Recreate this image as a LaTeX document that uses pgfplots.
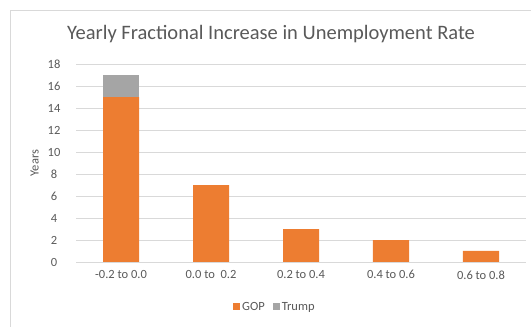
\documentclass[border=0pt]{standalone}
\usepackage{fontspec}
\setmainfont{Carlito}
\usepackage{pgfplots}
\pgfplotsset{compat=1.18}
\definecolor{gop}{HTML}{ED7D31}
\definecolor{trump}{HTML}{A5A5A5}
\definecolor{gridc}{HTML}{D9D9D9}
\definecolor{txt}{HTML}{595959}
\definecolor{frame}{HTML}{D9D9D9}
\begin{document}
\begin{tikzpicture}[x=1pt,y=1pt]
\path[use as bounding box] (0,0) rectangle (531,327);
\draw[frame,line width=0.8pt] (10,0) -- (10,317) -- (531,317);
\node[anchor=base,font=\fontsize{20.5}{22}\selectfont,text=txt] at (271,287) {Yearly Fractional Increase in Unemployment Rate};
\begin{axis}[
  at={(76pt,65pt)}, anchor=south west,
  scale only axis, width=450pt, height=198pt,
  ybar stacked, bar width=36pt,
  xmin=-0.5, xmax=4.5, ymin=0, ymax=18,
  ytick={0,2,...,18},
  xtick={0,1,2,3,4},
  xticklabels={-0.2 to 0.0, 0.0 to\ \ 0.2, 0.2 to 0.4, 0.4 to 0.6, 0.6 to 0.8},
  ymajorgrids, grid style={gridc, line width=0.8pt},
  axis y line*=left, y axis line style={draw=none},
  axis x line*=bottom, x axis line style={gridc, line width=0.8pt, -},
  major tick length=0pt,
  tick label style={font=\fontsize{12.5}{14}\selectfont, text=txt},
  /pgf/number format/assume math mode=true,
  xticklabel style={yshift=-5pt},
  yticklabel style={xshift=-22pt, anchor=center},
  ylabel={Years}, ylabel style={font=\fontsize{12.5}{14}\selectfont, text=txt, at={(axis description cs:-0.075,0.5)}, anchor=south},
  legend style={at={(0.442,-0.227)}, anchor=center, draw=none, legend columns=-1, font=\fontsize{12.5}{14}\selectfont, text=txt, /tikz/every even column/.append style={column sep=6pt}},
  legend image code/.code={\fill[#1] (0pt,-3.5pt) rectangle (7pt,3.5pt);},
  clip=false,
]
\addplot[fill=gop, draw=none] coordinates {(0,15) (1,7) (2,3) (3,2) (4,1)};
\addplot[fill=trump, draw=none] coordinates {(0,2) (1,0) (2,0) (3,0) (4,0)};
\legend{GOP, Trump}
\end{axis}
\end{tikzpicture}
\end{document}
